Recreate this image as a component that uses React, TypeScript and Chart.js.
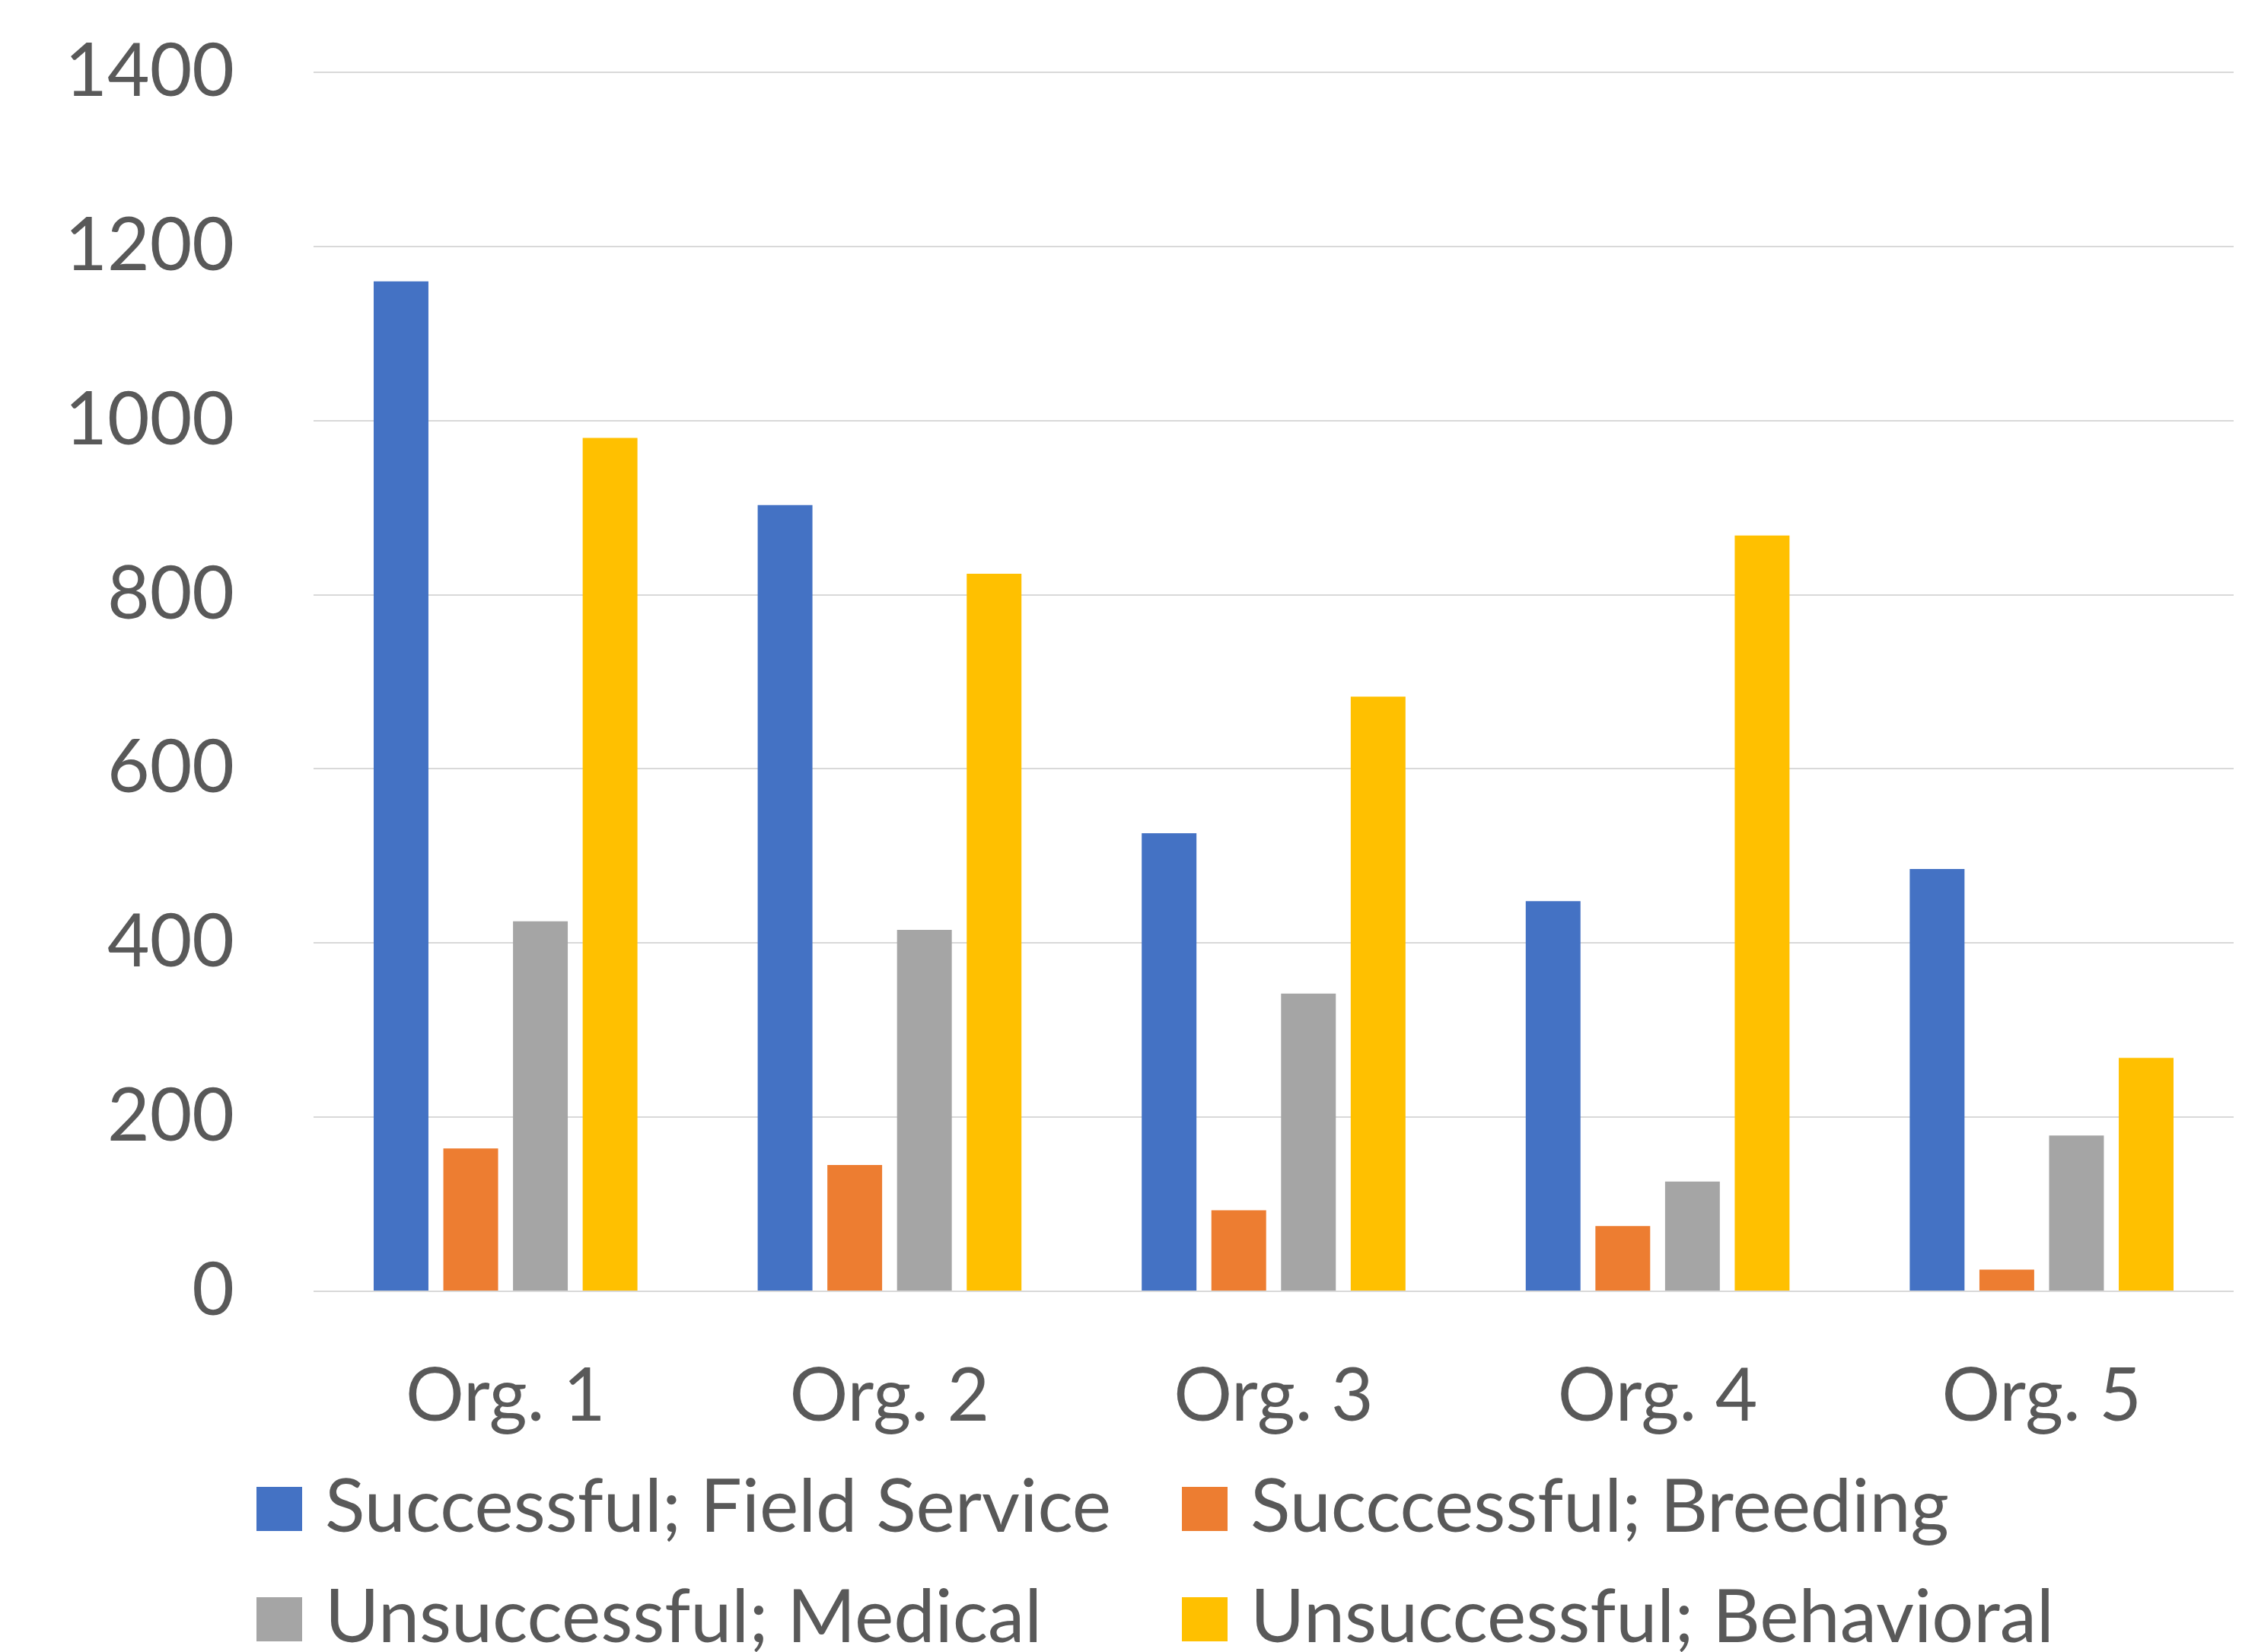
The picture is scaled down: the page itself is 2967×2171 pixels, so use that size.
import React, { useEffect, useRef } from "react";
import { Chart, registerables } from "chart.js";

Chart.register(...registerables);

const categories = ["Org. 1", "Org. 2", "Org. 3", "Org. 4", "Org. 5"];
const seriesNames = [
  "Successful; Field Service",
  "Succcessful; Breeding",
  "Unsuccessful; Medical",
  "Unsuccessful; Behavioral",
];
const fieldService = [1160, 903, 526, 448, 485];
const breeding = [164, 145, 93, 75, 25];
const medical = [425, 415, 342, 126, 179];
const behavioral = [980, 824, 683, 868, 268];
const seriesColors = ["#4472C4", "#ED7D31", "#A5A5A5", "#FFC000"];
const yTicks = [0, 200, 400, 600, 800, 1000, 1200, 1400];

const W = 2967;
const H = 2171;
const FONT = "Lato";
const TEXT = "#595959";

const gridLegend = {
  id: "gridLegend",
  afterDraw(chart: any) {
    const ctx = chart.ctx;
    const cols = [337, 1553];
    const baselines = [2013, 2158];
    ctx.save();
    ctx.font = `97px ${FONT}`;
    ctx.textBaseline = "alphabetic";
    ctx.textAlign = "left";
    chart.data.datasets.forEach((ds: any, i: number) => {
      const x = cols[i % 2];
      const b = baselines[Math.floor(i / 2)];
      ctx.fillStyle = ds.backgroundColor;
      ctx.fillRect(x, b - 59, 60, 58);
      ctx.fillStyle = TEXT;
      ctx.fillText(ds.label, x + 90, b);
    });
    ctx.restore();
  },
};

export default function App() {
  const ref = useRef<HTMLCanvasElement | null>(null);
  useEffect(() => {
    if (!ref.current) return;
    const data = [fieldService, breeding, medical, behavioral];
    const chart = new Chart(ref.current, {
      type: "bar",
      data: {
        labels: categories,
        datasets: seriesNames.map((name, i) => ({
          label: name,
          data: data[i],
          backgroundColor: seriesColors[i],
          borderWidth: 0,
          categoryPercentage: 0.7257,
          barPercentage: 0.786,
        })),
      },
      options: {
        animation: false,
        responsive: false,
        maintainAspectRatio: false,
        devicePixelRatio: 1,
        layout: { padding: { top: 95, left: 0, right: 32, bottom: 274 } },
        plugins: {
          legend: { display: false },
          title: { display: false },
          tooltip: { enabled: false },
        },
        scales: {
          x: {
            grid: { display: false },
            border: { display: false },
            ticks: {
              color: TEXT,
              font: { family: FONT, size: 96 },
              padding: 73,
              maxRotation: 0,
            },
            afterFit: (s: any) => {
              s.height = 200;
              s.paddingLeft = 0;
              s.paddingRight = 0;
            },
          },
          y: {
            min: 0,
            max: 1400,
            grid: { color: "#D9D9D9", lineWidth: 2, drawTicks: false },
            border: { display: false },
            afterBuildTicks: (s: any) => {
              s.ticks = yTicks.map((v) => ({ value: v }));
            },
            ticks: {
              color: TEXT,
              font: { family: FONT, size: 96 },
              padding: 104,
              callback: (v: any) => String(v),
            },
            afterFit: (s: any) => {
              s.width = 412;
              s.paddingTop = 0;
              s.paddingBottom = 0;
            },
          },
        },
      },
      plugins: [gridLegend],
    });
    return () => chart.destroy();
  }, []);
  return (
    <div style={{ position: "fixed", left: 0, top: 0, width: W, height: H, background: "#fff" }}>
      <canvas ref={ref} width={W} height={H} style={{ display: "block", width: W, height: H }} />
    </div>
  );
}
